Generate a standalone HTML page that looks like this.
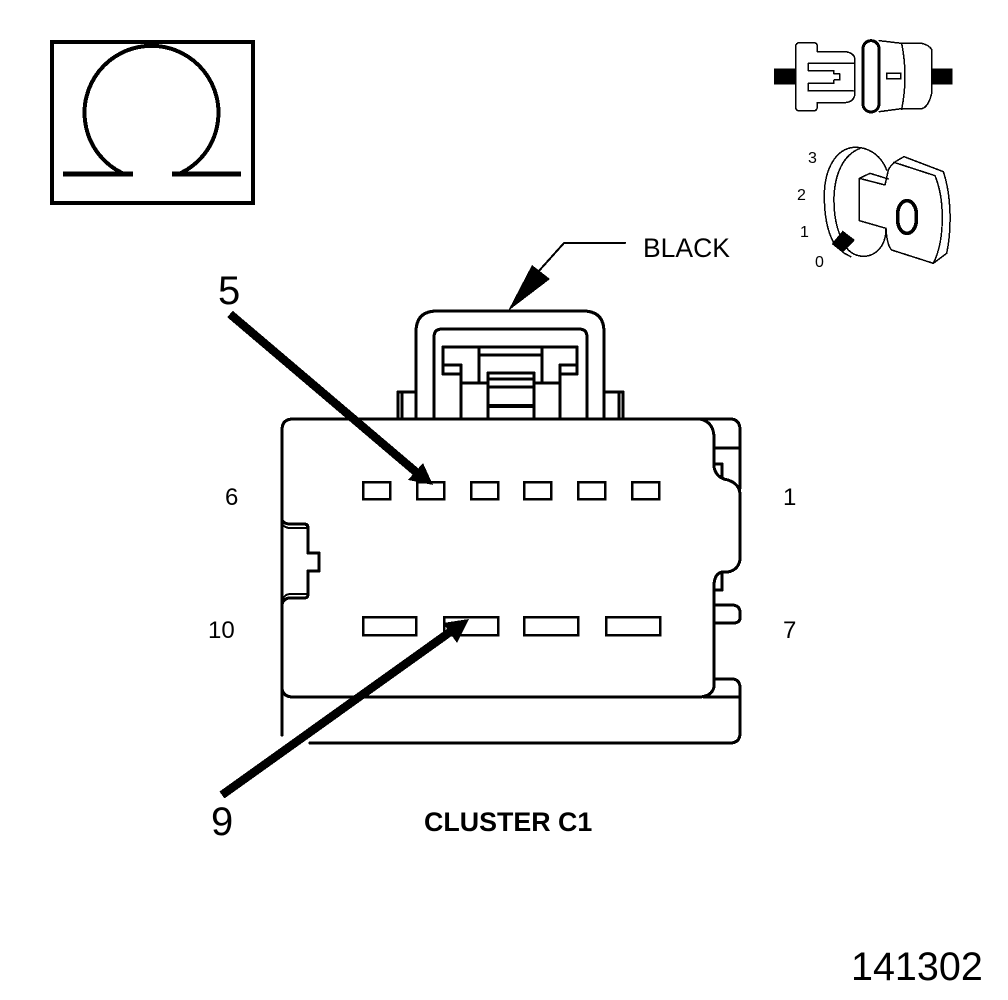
<!DOCTYPE html>
<html><head><meta charset="utf-8"><style>
html,body{margin:0;padding:0;background:#fff}
svg{display:block}
path,rect{shape-rendering:crispEdges}
text{font-family:"Liberation Sans",sans-serif;fill:#000}
.l{fill:none;stroke:#000;stroke-width:3;stroke-linejoin:round;stroke-linecap:round}
.t{fill:none;stroke:#000;stroke-width:2;stroke-linejoin:round;stroke-linecap:round}
.z{fill:none;stroke:#000;stroke-width:4.5;stroke-linejoin:round;stroke-linecap:round}
</style></head><body>
<svg width="1008" height="1000" viewBox="0 0 1008 1000" xmlns="http://www.w3.org/2000/svg">
<rect width="1008" height="1000" fill="#fff"/>
<!-- ohm box -->
<rect x="52" y="42" width="201" height="161" fill="none" stroke="#000" stroke-width="4"/>
<path d="M122 173A67 67 0 1 1 181 173" fill="none" stroke="#000" stroke-width="4"/>
<path d="M63 174H133M172 174H241" stroke="#000" stroke-width="5" fill="none"/>
<!-- icon top right -->
<g transform="translate(760 30) scale(.33333)">
<rect x="42" y="115" width="65" height="48"/><rect x="515" y="115" width="63" height="48"/>
<path class="z" d="M107 50Q107 38 120 38H160Q172 38 172 50V65H255Q285 68 285 92V190Q283 216 255 218H172V232Q170 243 160 243H120Q107 243 107 230Z"/>
<path class="z" d="M280 100H145V122H222V132H240V150H222V160H145V183H280"/>
<rect x="309" y="32" width="48" height="214" rx="24" fill="none" stroke="#000" stroke-width="9"/>
<path class="z" d="M358 32L425 40H485Q505 44 515 58V190Q505 232 485 236H425L358 245M425 40Q445 140 425 238"/>
<rect x="380" y="130" width="42" height="16" fill="none" stroke="#000" stroke-width="4"/>
<!-- key -->
<path class="z" d="M380 420C360 370 320 350 280 352C225 358 195 420 193 490C192 560 205 610 222 640"/>
<path class="z" d="M300 355C250 375 225 430 222 500C220 570 235 620 265 660C285 680 325 690 355 660C370 645 378 625 378 595L298 572V445L375 465L385 420C395 400 405 395 432 380"/>
<path class="z" d="M378 595C380 630 385 650 395 660L520 700L560 670C575 600 575 500 550 425L432 380M402 397L525 437C555 510 555 630 520 700M298 445L330 430L385 447"/>
<rect x="413" y="512" width="56" height="98" rx="28" ry="40" fill="none" stroke="#000" stroke-width="11"/>
<path d="M248 602L285 630L248 668L215 642Z"/>
<path class="z" d="M250 668L272 680"/>
</g>
<text x="808" y="163" font-size="16">3</text>
<text x="797" y="200" font-size="16">2</text>
<text x="800" y="237" font-size="16">1</text>
<text x="815" y="267" font-size="16">0</text>
<!-- black label -->
<path d="M625 243H564L538 272" class="t"/>
<path d="M508 311L532 265L550 279Z"/>
<text x="643" y="257" font-size="26.5">BLACK</text>
<!-- clip top -->
<path class="l" d="M416 419V332Q416 311 437 311H583Q604 311 604 332V419"/>
<path class="l" d="M434 419V337Q434 329 442 329H579Q587 329 587 337V419"/>
<path class="l" d="M443 374V347H577V374H560M443 374H461M443 365H461M461 419V365M560 419V365M577 365H560M577 374V347M479 347V383M542 347V383M479 355H542M461 383H487M534 383H560"/>
<path class="l" d="M488 419V373H534V419M488 379H534M488 387H534"/>
<path d="M488 404H534V408H488Z"/>
<path class="l" d="M416 392H398V419M402 392V419M604 392H623V419M619 392V419"/>
<!-- body -->
<path class="l" d="M282 735V430Q282 419 293 419H730Q740 419 740 430V488M700 419Q714 422 714 438V467Q716 478 728 480Q740 484 740 495V560Q738 570 728 572H722Q714 574 714 586V687Q712 696 700 697H293Q283 697 282 688"/>
<path class="l" d="M714 448H740M714 464H722V478M722 574V590H714M714 605H733Q740 606 740 612V618Q740 623 733 623H714M714 679H733Q740 680 740 688V733Q740 743 730 743H310M704 697H738"/>
<path class="l" d="M282 520Q284 524 290 524H304Q308 524 308 528V553H319V571H308V594Q308 598 304 598H290Q284 598 282 604"/>
<path class="t" d="M282 524Q285 528 290 528H306M282 600Q285 594 290 594H306"/>
<!-- pins -->
<g fill="none" stroke="#000" stroke-width="2.5">
<rect x="363" y="482" width="27" height="17"/><rect x="417" y="482" width="27" height="17"/><rect x="471" y="482" width="27" height="17"/><rect x="524" y="482" width="27" height="17"/><rect x="578" y="482" width="27" height="17"/><rect x="632" y="482" width="27" height="17"/>
<rect x="363" y="617" width="53" height="18"/><rect x="444" y="617" width="54" height="18"/><rect x="524" y="617" width="54" height="18"/><rect x="606" y="617" width="54" height="18"/>
</g>
<!-- arrows -->
<path d="M230 314L416 472" stroke="#000" stroke-width="8.5" fill="none"/>
<path d="M433 485L408 480L423 463Z"/>
<path d="M222 795L450 632" stroke="#000" stroke-width="8.5" fill="none"/>
<path d="M469 619L443 623L457 643Z"/>
<!-- labels -->
<text x="218" y="304" font-size="40">5</text>
<text x="211" y="835" font-size="40">9</text>
<text x="225" y="505" font-size="24">6</text>
<text x="783" y="505" font-size="24">1</text>
<text x="208" y="638" font-size="24">10</text>
<text x="783" y="638" font-size="24">7</text>
<text x="424" y="831" font-size="26.8" font-weight="bold">CLUSTER C1</text>
<text x="851" y="980" font-size="39.5">141302</text>
</svg>
</body></html>
